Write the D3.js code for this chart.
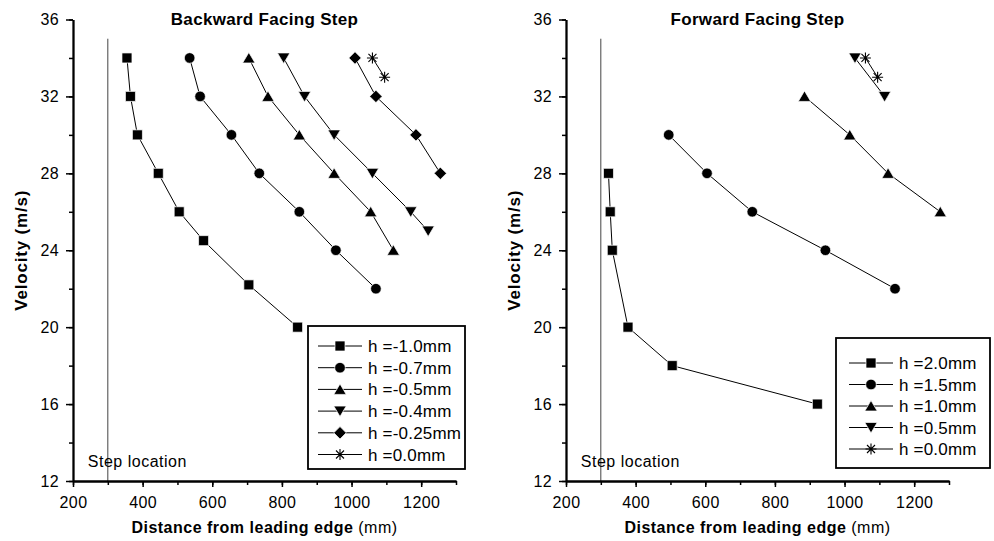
<!DOCTYPE html>
<html lang="en">
<head>
    <meta charset="UTF-8">
    <title>Step location</title>
    <script type="text/javascript" src="https://cdn.jsdelivr.net/npm/d3@7/dist/d3.min.js"></script>
    <style>
        body { margin: 0; background: #fff; }
        text { font-family: "Liberation Sans", Arial, sans-serif; }
    </style>
</head>
<body>
<script type="text/javascript">
    let width = 994, height = 541;

    // tick values
    let xTicks = [200, 400, 600, 800, 1000, 1200];
    let yTicks = [12, 16, 20, 24, 28, 32, 36];
    let stepX = 300;

    // backward facing step
    let backLabels = ['h =-1.0mm', 'h =-0.7mm', 'h =-0.5mm', 'h =-0.4mm', 'h =-0.25mm', 'h =0.0mm'];
    let backDist = [
        [355, 365, 385, 445, 505, 575, 705, 845],
        [535, 565, 655, 735, 850, 955, 1070],
        [705, 760, 850, 950, 1055, 1120],
        [805, 865, 950, 1060, 1170, 1220],
        [1010, 1070, 1185, 1255],
        [1060, 1095]
    ];
    let backVel = [
        [34, 32, 30, 28, 26, 24.5, 22.2, 20],
        [34, 32, 30, 28, 26, 24, 22],
        [34, 32, 30, 28, 26, 24],
        [34, 32, 30, 28, 26, 25],
        [34, 32, 30, 28],
        [34, 33]
    ];

    // forward facing step
    let fwdLabels = ['h =2.0mm', 'h =1.5mm', 'h =1.0mm', 'h =0.5mm', 'h =0.0mm'];
    let fwdDist = [
        [322, 327, 333, 378, 505, 922],
        [495, 605, 735, 945, 1145],
        [885, 1015, 1125, 1275],
        [1030, 1115],
        [1060, 1095]
    ];
    let fwdVel = [
        [28, 26, 24, 20, 18, 16],
        [30, 28, 26, 24, 22],
        [32, 30, 28, 26],
        [34, 32],
        [34, 33]
    ];

    // marker shapes
    let markers = {
        square: 'M-5,-5h10v10h-10Z',
        circle: 'M5.3,0A5.3,5.3,0,1,1,-5.3,0A5.3,5.3,0,1,1,5.3,0Z',
        up: 'M0,-5.5L6.2,5L-6.2,5Z',
        down: 'M0,5.5L6.2,-5L-6.2,-5Z',
        diamond: 'M0,-6.2L6.2,0L0,6.2L-6.2,0Z',
        star: 'M-5.5,0H5.5M0,-5.5V5.5M-4,-4L4,4M-4,4L4,-4'
    };
    let backShapes = ['square', 'circle', 'up', 'down', 'diamond', 'star'];
    let fwdShapes = ['square', 'circle', 'up', 'down', 'star'];

    let svg = d3.select('body').append('svg')
        .attr('width', width)
        .attr('height', height);

    function drawMarker(g, shape) {
        let p = g.append('path').attr('d', markers[shape]);
        if (shape === 'star') {
            p.attr('fill', 'none').attr('stroke', '#000').attr('stroke-width', 1.1);
        } else {
            p.attr('fill', '#000').attr('stroke', '#fff').attr('stroke-width', 0.7);
        }
    }

    function drawPanel(cfg) {
        let x = d3.scaleLinear().domain([200, 1300]).range([cfg.x0, cfg.x0 + 383]);
        let y = d3.scaleLinear().domain([12, 36]).range([481, 19.5]);
        let g = svg.append('g');

        // step location line
        g.append('line')
            .attr('x1', x(stepX)).attr('x2', x(stepX))
            .attr('y1', y(12)).attr('y2', y(35))
            .attr('stroke', '#444').attr('stroke-width', 1);
        g.append('text')
            .attr('x', x(stepX) - 20).attr('y', y(12) - 14)
            .attr('font-size', 16).attr('letter-spacing', 0.5)
            .text('Step location');

        // minor ticks
        let xAxisMinor = d3.axisBottom(x).tickValues(d3.range(200, 1301, 100)).tickSize(4).tickSizeOuter(0).tickFormat('');
        let yAxisMinor = d3.axisLeft(y).tickValues(d3.range(12, 37, 2)).tickSize(4).tickSizeOuter(0).tickFormat('');
        g.append('g').attr('transform', 'translate(0,' + y(12) + ')').call(xAxisMinor);
        g.append('g').attr('transform', 'translate(' + x(200) + ',0)').call(yAxisMinor);

        // major ticks
        let xAxis = d3.axisBottom(x).tickValues(xTicks).tickSize(6).tickSizeOuter(0)
            .tickPadding(10).tickFormat(d3.format('d'));
        let yAxis = d3.axisLeft(y).tickValues(yTicks).tickSize(7).tickSizeOuter(0)
            .tickPadding(7).tickFormat(d3.format('d'));
        g.append('g').attr('class', 'axis').attr('transform', 'translate(0,' + y(12) + ')').call(xAxis);
        g.append('g').attr('class', 'axis').attr('transform', 'translate(' + x(200) + ',0)').call(yAxis);
        g.selectAll('.domain').attr('stroke', '#000').attr('stroke-width', 1.8);
        g.selectAll('.tick line').attr('stroke', '#000').attr('stroke-width', 1.5);
        g.selectAll('.axis .tick text')
            .attr('font-size', 16)
            .attr('letter-spacing', 0.4)
            .attr('font-family', '"Liberation Sans", Arial, sans-serif')
            .attr('fill', '#000');

        // title
        g.append('text')
            .attr('x', (x(200) + x(1300)) / 2).attr('y', 25)
            .attr('text-anchor', 'middle')
            .attr('font-size', 17).attr('font-weight', 'bold').attr('letter-spacing', 0.3)
            .text(cfg.title);

        // axis labels
        let xl = g.append('text')
            .attr('x', (x(200) + x(1300)) / 2).attr('y', 533)
            .attr('text-anchor', 'middle')
            .attr('font-size', 16).attr('letter-spacing', 0.5);
        xl.append('tspan').attr('font-weight', 'bold').text('Distance from leading edge');
        xl.append('tspan').text(' (mm)');

        g.append('text')
            .attr('transform', 'translate(' + (cfg.x0 - 46) + ',' + y(24) + ') rotate(-90)')
            .attr('text-anchor', 'middle')
            .attr('font-size', 17).attr('font-weight', 'bold').attr('letter-spacing', 0.8)
            .text('Velocity (m/s)');

        // series
        let line = d3.line().x(d => x(d[0])).y(d => y(d[1]));
        cfg.dist.forEach(function (xs, i) {
            let pts = xs.map((v, j) => [v, cfg.vel[i][j]]);
            g.append('path')
                .attr('d', line(pts))
                .attr('fill', 'none')
                .attr('stroke', '#000')
                .attr('stroke-width', 1);
            g.selectAll('.m' + i)
                .data(pts)
                .enter()
                .append('g')
                .attr('transform', d => 'translate(' + x(d[0]) + ',' + y(d[1]) + ')')
                .each(function () { drawMarker(d3.select(this), cfg.shapes[i]); });
        });

        // legend
        let lg = g.append('g').attr('transform', 'translate(' + cfg.lx + ',' + cfg.ly + ')');
        lg.append('rect')
            .attr('width', cfg.lw).attr('height', cfg.lh)
            .attr('fill', '#fff').attr('stroke', '#000').attr('stroke-width', 1.8);
        cfg.labels.forEach(function (lab, i) {
            let row = lg.append('g').attr('transform', 'translate(0,' + (cfg.lt + i * cfg.ls) + ')');
            row.append('line')
                .attr('x1', cfg.l1).attr('x2', cfg.l1 + 44)
                .attr('stroke', '#000').attr('stroke-width', 1);
            let m = row.append('g').attr('transform', 'translate(' + (cfg.l1 + 22) + ',0)');
            drawMarker(m, cfg.shapes[i]);
            row.append('text')
                .attr('x', cfg.l1 + 50).attr('y', 6)
                .attr('font-size', 17).attr('letter-spacing', 0.2)
                .text(lab);
        });
    }

    drawPanel({
        x0: 73, title: 'Backward Facing Step',
        dist: backDist, vel: backVel, labels: backLabels, shapes: backShapes,
        lx: 308, ly: 326, lw: 157, lh: 143, lt: 20, ls: 21.7, l1: 10
    });
    drawPanel({
        x0: 566, title: 'Forward Facing Step',
        dist: fwdDist, vel: fwdVel, labels: fwdLabels, shapes: fwdShapes,
        lx: 836, ly: 338, lw: 154, lh: 130, lt: 25, ls: 21.5, l1: 13
    });
</script>
</body>
</html>
